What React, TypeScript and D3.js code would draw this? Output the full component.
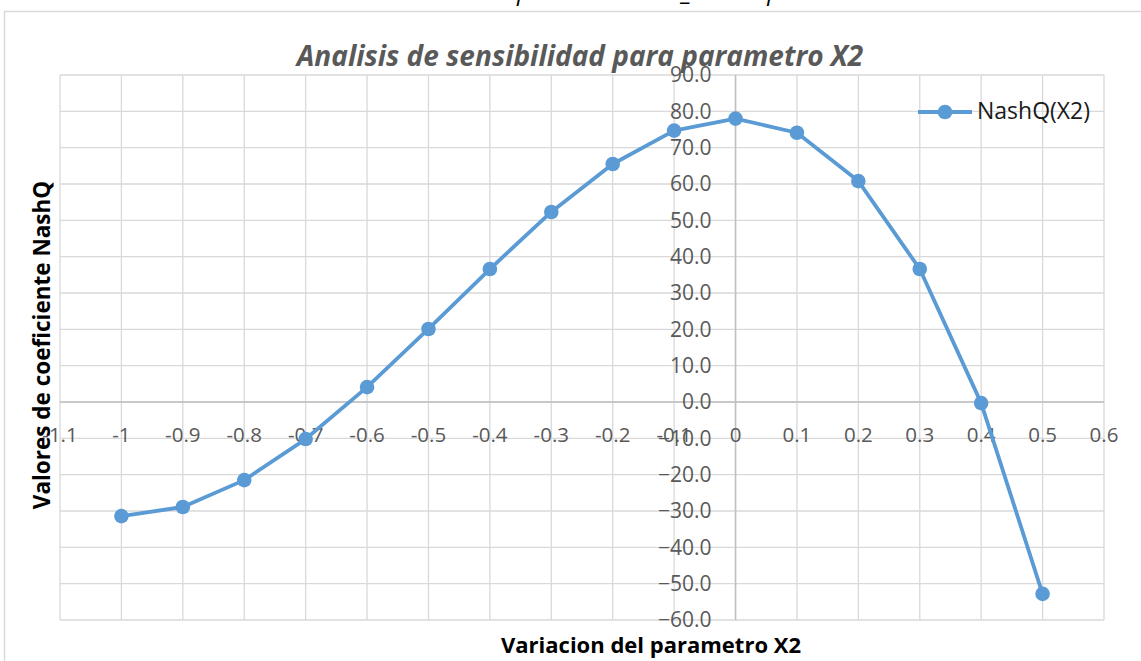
import React from "react";
import * as d3 from "d3";

// Variation applied to parameter X2 and the resulting NashQ efficiency
const variation = [-1, -0.9, -0.8, -0.7, -0.6, -0.5, -0.4, -0.3, -0.2, -0.1, 0, 0.1, 0.2, 0.3, 0.4, 0.5];
const nashQ = [-31.4, -28.9, -21.5, -10.2, 4.1, 20.1, 36.6, 52.3, 65.5, 74.7, 78.0, 74.1, 60.8, 36.6, -0.3, -52.8];

const xTickValues = [-1.1, -1, -0.9, -0.8, -0.7, -0.6, -0.5, -0.4, -0.3, -0.2, -0.1, 0, 0.1, 0.2, 0.3, 0.4, 0.5, 0.6];
const xTickLabels = ["-1.1", "-1", "-0.9", "-0.8", "-0.7", "-0.6", "-0.5", "-0.4", "-0.3", "-0.2", "-0.1", "0", "0.1", "0.2", "0.3", "0.4", "0.5", "0.6"];
const yTickValues = [90, 80, 70, 60, 50, 40, 30, 20, 10, 0, -10, -20, -30, -40, -50, -60];

const seriesName = "NashQ(X2)";
const chartTitle = "Analisis de sensibilidad para parametro X2";
const xTitle = "Variacion del parametro X2";
const yTitle = "Valores de coeficiente NashQ";
const pageCaption = "parámetro de X_2 en el período";

const W = 1141;
const H = 661;
const plot = { left: 60, right: 1104, top: 75, bottom: 620 };
const blue = "#5B9BD5";
const grid = "#d9d9d9";
const font = "'Open Sans', 'Noto Sans', sans-serif";

export default function App() {
  const x = d3.scaleLinear().domain([-1.1, 0.6]).range([plot.left, plot.right]);
  const y = d3.scaleLinear().domain([-60, 90]).range([plot.bottom, plot.top]);
  const fmt = d3.format(".1f");

  const points = variation.map((v, i) => [v, nashQ[i]] as [number, number]);
  const line = d3
    .line<[number, number]>()
    .x((d) => x(d[0]))
    .y((d) => y(d[1]));

  const x0 = x(0);
  const y0 = y(0);

  return (
    <svg
      width={W}
      height={H}
      viewBox={`0 0 ${W} ${H}`}
      style={{ position: "absolute", left: 0, top: 0, display: "block", background: "#fff" }}
    >
      {/* caption of the page above the chart, clipped at the top edge */}
      <text x={517} y={0} fontFamily={font} fontStyle="italic" fontSize={24} fill="#000">
        {pageCaption}
      </text>

      {/* chart frame */}
      <path d={`M4.5,${H} V11.5 H${W}`} fill="none" stroke={grid} strokeWidth={1.5} />

      {/* gridlines */}
      <g stroke={grid} strokeWidth={1.3}>
        {xTickValues.map((t) => (
          <line key={`gx${t}`} x1={x(t)} x2={x(t)} y1={plot.top} y2={plot.bottom} />
        ))}
        {yTickValues.map((t) => (
          <line key={`gy${t}`} x1={plot.left} x2={plot.right} y1={y(t)} y2={y(t)} />
        ))}
      </g>

      {/* zero axes */}
      <line x1={x0} x2={x0} y1={plot.top} y2={plot.bottom} stroke="#bfbfbf" strokeWidth={1.5} />
      <line x1={plot.left} x2={plot.right} y1={y0} y2={y0} stroke="#bfbfbf" strokeWidth={1.5} />

      {/* y tick labels */}
      <g fontFamily={font} fontSize={21} fill="#595959" textAnchor="end">
        {yTickValues.map((t) => (
          <text key={`ly${t}`} x={x0 - 24} y={y(t)} dy="0.35em">
            {fmt(t)}
          </text>
        ))}
      </g>

      {/* x tick labels */}
      <g fontFamily={font} fontSize={20.5} fill="#595959" textAnchor="middle">
        {xTickValues.map((t, i) => (
          <text key={`lx${t}`} x={x(t)} y={y0 + 40}>
            {xTickLabels[i]}
          </text>
        ))}
      </g>

      {/* series */}
      <path d={line(points) ?? ""} fill="none" stroke={blue} strokeWidth={3.8} strokeLinejoin="round" />
      {points.map((d, i) => (
        <circle key={`p${i}`} cx={x(d[0])} cy={y(d[1])} r={7.3} fill={blue} />
      ))}

      {/* legend */}
      <line x1={918} x2={972} y1={112} y2={112} stroke={blue} strokeWidth={3.8} />
      <circle cx={945} cy={112} r={7.3} fill={blue} />
      <text x={977} y={119} fontFamily={font} fontSize={23} fill="#1a1a1a">
        {seriesName}
      </text>

      {/* titles */}
      <text
        x={580}
        y={66}
        textAnchor="middle"
        fontFamily={font}
        fontSize={28}
        fontWeight="bold"
        fontStyle="italic"
        fill="#595959"
      >
        {chartTitle}
      </text>
      <text x={651} y={653} textAnchor="middle" fontFamily={font} fontSize={22} fontWeight="bold" fill="#000">
        {xTitle}
      </text>
      <text
        transform={`translate(50,345) rotate(-90)`}
        textAnchor="middle"
        fontFamily={font}
        fontSize={22.5}
        fontWeight="bold"
        fill="#000"
      >
        {yTitle}
      </text>
    </svg>
  );
}
